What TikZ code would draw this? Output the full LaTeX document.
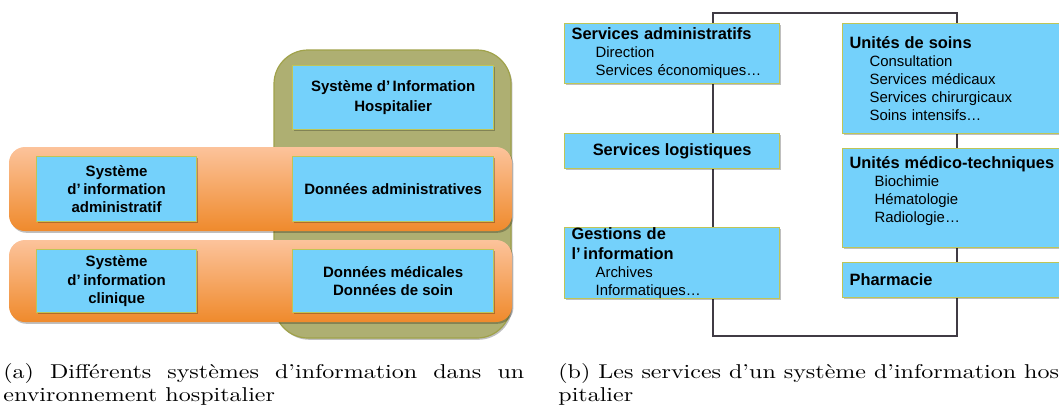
\documentclass[tikz,border=0pt]{standalone}
\usepackage{fontspec}
\usepackage{graphicx}
\setsansfont{Liberation Sans}
\usetikzlibrary{shadows}

\definecolor{sihOlive}{HTML}{AEAF72}
\definecolor{sihOliveBord}{HTML}{A0A24A}
\definecolor{sihBleu}{HTML}{74D1FB}
\definecolor{sihBleuBord}{HTML}{BFC556}
\definecolor{sihOrangeHaut}{HTML}{FCC39B}
\definecolor{sihOrangeBas}{HTML}{EF8A2C}
\definecolor{sihCadre}{HTML}{403B44}

\newcommand\titreserv[1]{{\fontsize{8.2}{9.5}\selectfont\bfseries #1}}

\tikzset{
  ombre/.style={drop shadow={shadow xshift=0.7pt, shadow yshift=-0.9pt, opacity=0.25, fill=black}},
  taille/.style 2 args={minimum width=#1*0.5pt, minimum height=#2*0.5pt},
  bleu/.style={draw=sihBleuBord, line width=0.6pt, fill=sihBleu, ombre, inner sep=0pt,
    anchor=north west, align=center, font=\sffamily\bfseries\fontsize{7.5}{9.2}\selectfont},
  gauche/.style={align=left, inner xsep=3.5pt, text width=100.5pt,
    font=\sffamily\fontsize{7.45}{9}\selectfont},
  droite/.style={align=left, inner xsep=3.5pt, text width=109.5pt,
    font=\sffamily\fontsize{7.45}{9}\selectfont},
  legende/.style={anchor=base west, inner sep=0pt}
}

\begin{document}
\begin{tikzpicture}[x=0.5pt, y=-0.5pt]
  \useasboundingbox (0,0) rectangle (1059,413);
  \clip (0,0) rectangle (1059,413);

  % (a) cadre olive du SIH
  \draw[sihOliveBord, line width=0.6pt, fill=sihOlive, rounded corners=17pt, ombre] (274,50) rectangle (511,338);
  % bandeaux orange
  \foreach \yh/\yb in {147/231, 240/322}
    \shade[top color=sihOrangeHaut, bottom color=sihOrangeBas, rounded corners=8pt, ombre] (9,\yh) rectangle (512,\yb);

  \node[bleu, taille={201}{64}] (sih) at (292,65) {Système d’\,Information\\[0.4pt]Hospitalier};
  \node[bleu, taille={160}{65}] (siAdm) at (36,156) {Système\\d’\,information\\administratif};
  \node[bleu, taille={201}{65}] (donAdm) at (292,156) {Données administratives};
  \node[bleu, taille={160}{63}] (siClin) at (36,249) {Système\\d’\,information\\clinique};
  \node[bleu, taille={201}{63}] (donMed) at (292,249) {Données médicales\\Données de soin};

  % (b) boucle qui relie les services
  \coordinate (cadreNO) at (713,13);
  \coordinate (cadreSE) at (957,336);
  \draw[sihCadre, line width=1pt] (cadreNO) rectangle (cadreSE);

  \node[bleu, gauche, taille={215}{60}] (servAdm) at (564,23)
    {\titreserv{Services administratifs}\\ \hspace*{12pt}Direction\\ \hspace*{12pt}Services économiques…};
  \node[bleu, taille={215}{35}, font=\sffamily\bfseries\fontsize{8.2}{9.5}\selectfont] (servLog) at (564,133)
    {Services logistiques};
  \node[bleu, gauche, taille={215}{70}] (gestInfo) at (564,227)
    {\titreserv{Gestions de\\[1pt]l’\,information}\\ \hspace*{12pt}Archives\\ \hspace*{12pt}Informatiques…};

  \node[bleu, droite, taille={233}{110}] (unitSoins) at (842,23)
    {\titreserv{Unités de soins}\\ \hspace*{10pt}Consultation\\ \hspace*{10pt}Services médicaux\\
     \hspace*{10pt}Services chirurgicaux\\ \hspace*{10pt}Soins intensifs…};
  \node[bleu, droite, taille={233}{99}] (unitMT) at (842,148)
    {\titreserv{Unités médico-techniques}\\ \hspace*{12.5pt}Biochimie\\ \hspace*{12.5pt}Hématologie\\
     \hspace*{12.5pt}Radiologie…\\ \mbox{}};
  \node[bleu, droite, taille={233}{35}] (pharma) at (842,262) {\titreserv{Pharmacie}};

  % legendes
  \node[legende] (legA) at (3,378) {\scalebox{1.2}[1]{\parbox[t]{217pt}{\fontsize{10}{11.5}\selectfont
    (a) Différents systèmes d’information dans un\linebreak environnement hospitalier}}};
  \node[legende] (legB) at (558,378) {\scalebox{1.2}[1]{\parbox[t]{260pt}{\fontsize{10}{11.5}\selectfont
    (b) Les services d’un système d’information hos-\\pitalier}}};
\end{tikzpicture}
\end{document}
